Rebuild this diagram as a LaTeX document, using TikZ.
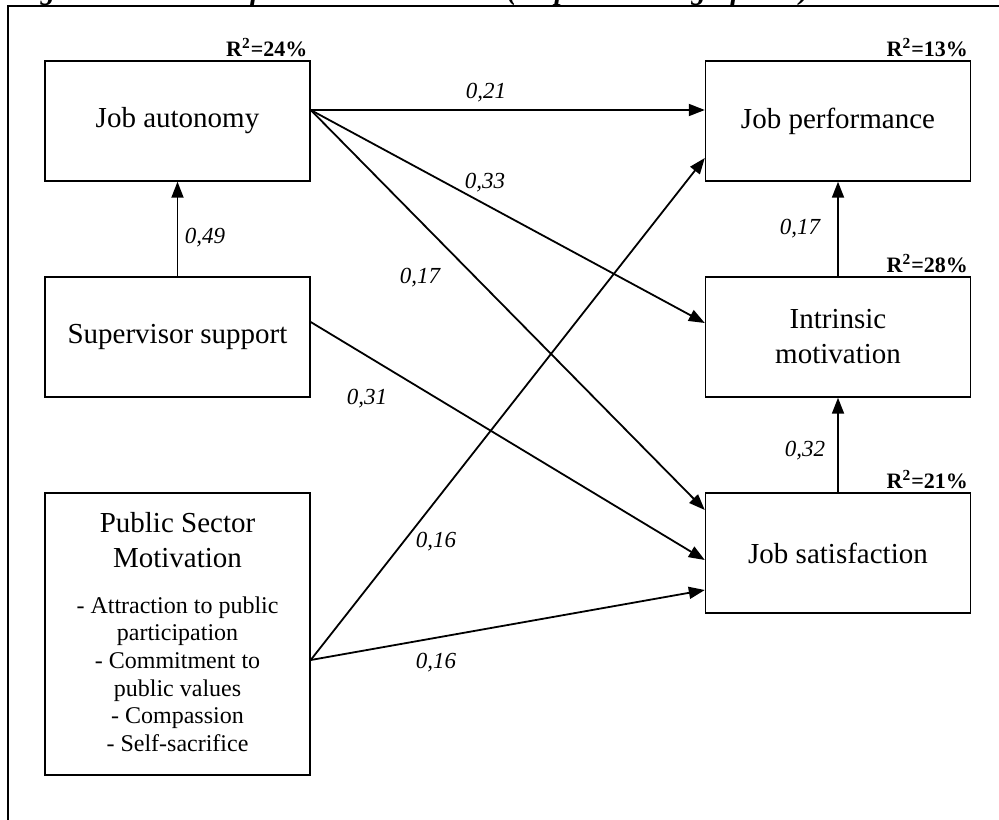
\documentclass[tikz,border=0pt]{standalone}
\usepackage{fontspec}
\setmainfont{Liberation Serif}
\usetikzlibrary{arrows.meta}

\tikzset{
	varbox/.style={draw, line width=0.7pt, minimum width=132.5pt, minimum height=60pt, inner sep=0pt, align=center, font=\fontsize{14.5}{17.5}\selectfont},
	effect/.style={line width=0.9pt, -{Triangle[length=8pt,width=6pt]}},
	coef/.style={inner sep=0pt, font=\fontsize{11.5}{13}\selectfont\itshape},
	rsq/.style={anchor=south east, inner sep=1.5pt, font=\fontsize{11}{13}\selectfont\bfseries},
}

\begin{document}
\begin{tikzpicture}[x=0.5pt,y=-0.5pt]
		\useasboundingbox (0,0) rectangle (999,819);
		\clip (0,0) rectangle (999,819);
		
		%%%%% FRAME %%%%%
		
		\node[anchor=base west, inner sep=0pt, font=\fontsize{14.5}{17}\selectfont\bfseries\itshape] (caption) at (13,-1) {Figure 2: The modified structural model (all paths are significant)};
		\draw[line width=1pt] (8,830) -- (8,5.5) -- (1010,5.5);
		
		%%%%% BOXES %%%%%
		
		\node[varbox] (aut) at (177.5,121) {Job autonomy};
		\node[varbox] (sup) at (177.5,337) {Supervisor support};
		\node[varbox, minimum height=141pt] (psm) at (177.5,634) {};
		\node[align=center, font=\fontsize{14.5}{17.5}\selectfont] (psmtitle) at (177.5,540) {Public Sector\\Motivation};
		\node[align=center, font=\fontsize{12}{13.8}\selectfont] (psmlist) at (177.5,674) {- Attraction to public\\participation\\- Commitment to\\public values\\- Compassion\\- Self-sacrifice};
		
		\node[varbox] (perf) at (838,121) {Job performance};
		\node[varbox] (intr) at (838,337) {Intrinsic\\motivation};
		\node[varbox] (sat) at (838,553) {Job satisfaction};
		
		\node[rsq] (rsqaut) at (aut.north east) {R\textsuperscript{2}=24\%};
		\node[rsq] (rsqperf) at (perf.north east) {R\textsuperscript{2}=13\%};
		\node[rsq] (rsqintr) at (intr.north east) {R\textsuperscript{2}=28\%};
		\node[rsq] (rsqsat) at (sat.north east) {R\textsuperscript{2}=21\%};
		
		%%%%% PATHS %%%%%
		
		\draw[effect] (sup) -- (aut);
		\draw[effect] ([yshift=5.5pt]aut.east) -- ([yshift=5.5pt]perf.west);
		\draw[effect] ([yshift=5.5pt]aut.east) -- ([yshift=7pt]intr.west);
		\draw[effect] ([yshift=5.5pt]aut.east) -- ([yshift=21.5pt]sat.west);
		\draw[effect] ([yshift=7.5pt]sup.east) -- ([yshift=-3.5pt]sat.west);
		\draw[effect] ([yshift=-13pt]psm.east) -- ([yshift=-18.5pt]perf.west);
		\draw[effect] ([yshift=-13pt]psm.east) -- ([yshift=-18.5pt]sat.west);
		\draw[effect] (intr) -- (perf);
		\draw[effect] (sat) -- (intr);
		
		\node[coef] (c49) at (205,238) {0,49};
		\node[coef] (c21) at (486,93) {0,21};
		\node[coef] (c33) at (485,183) {0,33};
		\node[coef] (c17a) at (420,278) {0,17};
		\node[coef] (c31) at (367,399) {0,31};
		\node[coef] (c16a) at (436,542) {0,16};
		\node[coef] (c16b) at (436,663) {0,16};
		\node[coef] (c17b) at (800,229) {0,17};
		\node[coef] (c32) at (805,451) {0,32};
		
\end{tikzpicture}
\end{document}
